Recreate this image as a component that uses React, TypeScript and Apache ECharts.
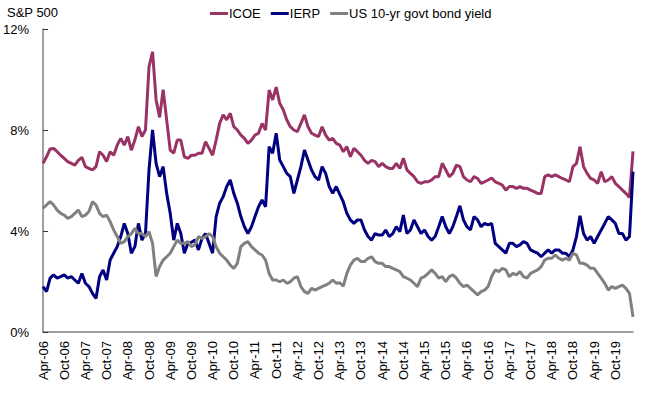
import React, { useEffect, useRef } from "react";
import * as echarts from "echarts";

// Monthly observations, Apr-2006 .. Mar-2020
const MONTHS = ["Jan", "Feb", "Mar", "Apr", "May", "Jun", "Jul", "Aug", "Sep", "Oct", "Nov", "Dec"];
const categories: string[] = [];
for (let i = 0; i < 168; i++) {
  const mIdx = (3 + i) % 12;
  const yr = 6 + Math.floor((3 + i) / 12);
  categories.push(`${MONTHS[mIdx]}-${String(yr).padStart(2, "0")}`);
}

const icoe = [
  6.68, 6.94, 7.25, 7.27, 7.14, 7.0, 6.88, 6.75, 6.68, 6.61, 6.8, 6.92,
  6.55, 6.48, 6.42, 6.55, 7.14, 7.0, 6.75, 7.14, 7.0, 7.4, 7.67, 7.4,
  7.74, 7.2, 7.6, 8.13, 7.74, 8.0, 10.5, 11.1, 9.2, 8.5, 9.6, 8.4,
  7.2, 7.08, 7.6, 7.6, 6.94, 6.88, 7.0, 7.0, 7.08, 7.08, 7.54, 7.27,
  7.0, 7.6, 8.26, 8.6, 8.4, 8.66, 8.13, 8.0, 7.8, 7.67, 7.47, 7.6,
  7.8, 7.87, 8.26, 8.0, 9.58, 9.19, 9.7, 9.06, 8.8, 8.4, 8.13, 8.0,
  7.93, 8.26, 8.6, 8.13, 7.87, 7.8, 7.74, 8.13, 7.8, 7.6, 7.67, 7.47,
  7.4, 7.14, 7.34, 6.94, 7.27, 7.14, 7.0, 6.8, 6.68, 6.8, 6.75, 6.55,
  6.68, 6.55, 6.48, 6.48, 6.68, 6.48, 6.88, 6.42, 6.28, 6.15, 5.95, 5.89,
  5.95, 5.95, 6.02, 6.15, 6.15, 6.68, 6.42, 6.15, 6.28, 6.61, 6.55, 6.15,
  6.02, 5.95, 6.15, 6.08, 5.89, 5.95, 6.02, 6.1, 5.95, 5.89, 5.82, 5.62,
  5.76, 5.76, 5.69, 5.76, 5.69, 5.69, 5.62, 5.56, 5.49, 5.49, 6.15, 6.22,
  6.15, 6.22, 6.15, 6.08, 6.02, 5.95, 6.55, 6.68, 7.34, 6.55, 6.28, 6.08,
  6.02, 5.89, 6.35, 5.95, 6.02, 6.15, 5.89, 5.76, 5.62, 5.49, 5.33, 7.15,
];

const ierp = [
  1.8, 1.6, 2.13, 2.26, 2.13, 2.19, 2.26, 2.13, 2.19, 2.06, 1.93, 2.32,
  1.93, 1.8, 1.53, 1.33, 2.19, 2.46, 2.06, 2.85, 3.12, 3.38, 3.78, 4.3,
  3.9, 3.12, 3.38, 4.3, 3.64, 3.9, 6.42, 8.0, 6.68, 6.15, 6.55, 5.49,
  4.7, 3.64, 4.3, 3.9, 3.12, 3.51, 3.55, 3.64, 3.25, 3.71, 3.9, 3.51,
  3.12, 4.57, 5.1, 5.36, 5.76, 6.02, 5.49, 5.1, 4.57, 4.17, 3.9, 4.17,
  4.57, 4.96, 5.23, 4.96, 7.34, 7.08, 7.87, 6.81, 6.55, 6.28, 6.15, 5.49,
  6.02, 6.55, 7.21, 6.81, 6.42, 6.15, 6.02, 6.55, 6.28, 5.76, 5.49, 5.76,
  5.45, 5.15, 4.7, 4.44, 4.3, 4.44, 4.44, 4.04, 3.78, 3.64, 3.9, 3.84,
  3.84, 4.04, 3.78, 3.9, 4.17, 3.97, 4.63, 3.9, 4.04, 4.44, 4.17, 3.9,
  4.04, 3.78, 3.64, 3.78, 4.17, 4.57, 4.17, 3.9, 4.17, 4.57, 5.0, 4.44,
  4.17, 4.04, 4.57, 4.44, 4.17, 4.3, 4.24, 4.3, 3.51, 3.38, 3.25, 3.12,
  3.51, 3.51, 3.38, 3.45, 3.58, 3.51, 3.25, 3.18, 3.12, 2.98, 3.12, 3.25,
  3.12, 3.25, 3.25, 3.12, 3.12, 2.98, 3.25, 3.78, 4.6, 3.9, 3.64, 3.78,
  3.51, 3.78, 4.04, 4.3, 4.57, 4.44, 4.3, 3.9, 3.9, 3.64, 3.78, 6.35,
];

const us10y = [
  4.9, 5.03, 5.16, 5.03, 4.83, 4.7, 4.63, 4.5, 4.57, 4.7, 4.83, 4.57,
  4.63, 4.77, 5.16, 5.03, 4.7, 4.57, 4.63, 4.37, 4.04, 3.78, 3.51, 3.58,
  3.78, 3.9, 4.1, 3.9, 3.9, 3.78, 3.97, 3.51, 2.2, 2.59, 2.85, 2.98,
  3.12, 3.38, 3.64, 3.51, 3.51, 3.58, 3.38, 3.45, 3.78, 3.71, 3.78, 3.9,
  3.78, 3.38, 3.12, 2.98, 2.85, 2.65, 2.52, 2.72, 3.38, 3.51, 3.58, 3.38,
  3.25, 3.12, 3.05, 2.85, 2.32, 2.06, 2.06, 1.99, 2.06, 1.93, 1.99, 2.13,
  2.19, 1.8, 1.6, 1.53, 1.73, 1.66, 1.73, 1.8, 1.86, 1.93, 2.06, 1.93,
  1.95, 1.82, 2.32, 2.65, 2.85, 2.92, 2.79, 2.79, 2.92, 2.98, 2.79, 2.72,
  2.72, 2.59, 2.59, 2.52, 2.46, 2.39, 2.19, 2.13, 2.06, 1.93, 1.8, 2.13,
  2.19, 2.32, 2.46, 2.32, 2.13, 2.19, 1.99, 2.19, 2.26, 2.13, 1.93, 1.8,
  1.86, 1.73, 1.6, 1.47, 1.6, 1.66, 1.8, 2.2, 2.46, 2.39, 2.52, 2.46,
  2.19, 2.32, 2.26, 2.39, 2.19, 2.13, 2.32, 2.39, 2.46, 2.59, 2.85, 2.92,
  2.92, 3.05, 2.92, 2.85, 2.92, 2.85, 3.12, 3.05, 2.72, 2.72, 2.65, 2.52,
  2.52, 2.32, 2.13, 1.93, 1.66, 1.8, 1.73, 1.8, 1.86, 1.73, 1.53, 0.6,
];

const seriesNames = ["ICOE", "IERP", "US 10-yr govt bond yield"];
const seriesColors = ["#993366", "#000080", "#808080"];
const yTicks = [0, 4, 8, 12];

const FONT = "'Liberation Sans', Arial, sans-serif";

export default function App() {
  const ref = useRef<HTMLDivElement>(null);
  useEffect(() => {
    if (!ref.current) return;
    const chart = echarts.init(ref.current, null, { renderer: "svg" });
    const data = [icoe, ierp, us10y];
    chart.setOption({
      animation: false,
      backgroundColor: "#ffffff",
      textStyle: { fontFamily: FONT },
      title: {
        text: "S&P 500",
        left: 2,
        top: 1,
        textStyle: { fontFamily: FONT, fontSize: 13, fontWeight: "normal", color: "#000" },
      },
      legend: {
        left: 205,
        top: 2,
        icon: "rect",
        itemWidth: 18,
        itemHeight: 3,
        itemGap: 10,
        data: seriesNames,
        textStyle: { fontFamily: FONT, fontSize: 13, color: "#000", padding: [0, 0, 0, -4] },
      },
      grid: { left: 42, right: 14, top: 29, bottom: 62, containLabel: false },
      xAxis: {
        type: "category",
        data: categories,
        boundaryGap: false,
        axisLine: { show: true, lineStyle: { color: "#808080", width: 1.5 } },
        axisTick: { show: false },
        splitLine: { show: false },
        axisLabel: {
          interval: 5,
          rotate: 90,
          margin: 9,
          fontFamily: FONT,
          fontSize: 13,
          color: "#000",
        },
      },
      yAxis: {
        type: "value",
        min: yTicks[0],
        max: yTicks[yTicks.length - 1],
        interval: 4,
        axisLine: { show: true, lineStyle: { color: "#808080", width: 1.5 } },
        axisTick: { show: true, inside: true, length: 5, lineStyle: { color: "#333" } },
        splitLine: { show: false },
        axisLabel: {
          formatter: "{value}%",
          margin: 14,
          fontFamily: FONT,
          fontSize: 13,
          color: "#000",
        },
      },
      series: seriesNames.map((name, i) => ({
        name,
        type: "line",
        data: data[i],
        showSymbol: false,
        symbol: "none",
        lineStyle: { color: seriesColors[i], width: 3 },
        itemStyle: { color: seriesColors[i] },
      })),
    });
    return () => chart.dispose();
  }, []);
  return (
    <div
      ref={ref}
      style={{ position: "fixed", left: 0, top: 0, width: 647, height: 394, background: "#fff" }}
    />
  );
}
